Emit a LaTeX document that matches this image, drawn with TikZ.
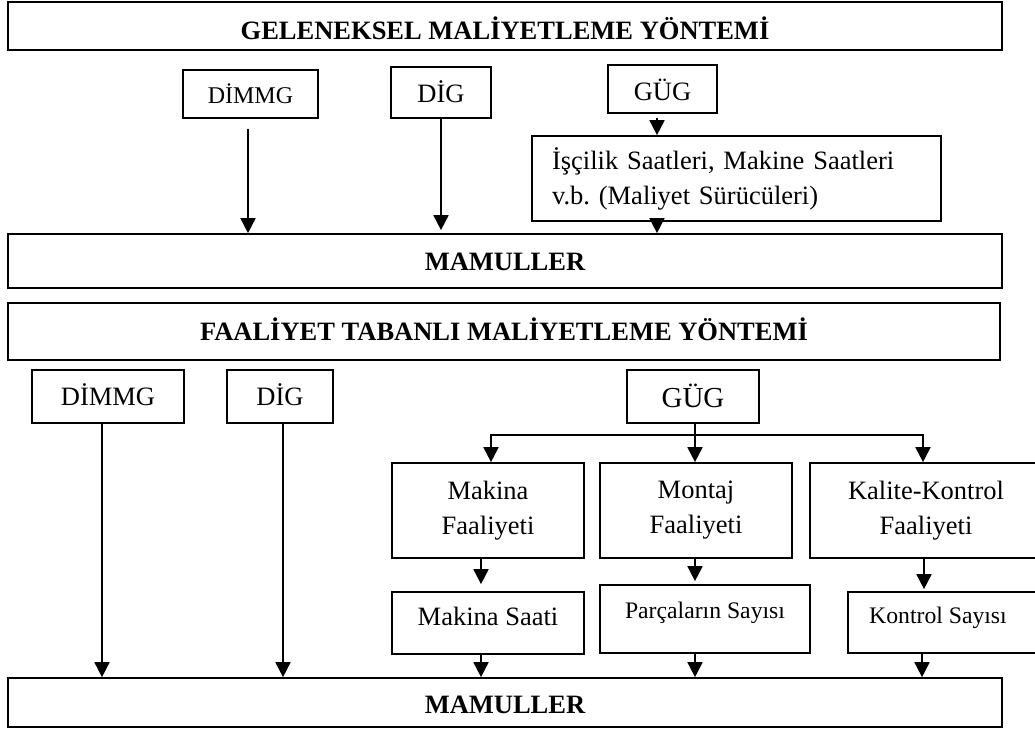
\documentclass[tikz,border=0pt]{standalone}
\usepackage{fontspec}
\setmainfont{Liberation Serif}
\usetikzlibrary{arrows.meta}
\begin{document}
\frenchspacing
\begin{tikzpicture}[x=1pt,y=-1pt,
  box/.style={draw, line width=1.7pt, inner sep=0pt, font=\fontsize{26.5}{35}\selectfont},
  title/.style={box, font=\bfseries\fontsize{26.5}{35}\selectfont},
  arr/.style={line width=1.7pt, -{Triangle[width=15pt,length=15pt]}},
  ln/.style={line width=1.7pt}]
\useasboundingbox (0,0) rectangle (1035,729);

% ---------- upper diagram ----------
\node[title, minimum width=994pt, minimum height=48pt, text height=26.6pt, text depth=0pt] (t1) at (505,26) {GELENEKSEL MALİYETLEME YÖNTEMİ};
\node[box, minimum width=135pt, minimum height=48pt, text height=18.6pt, text depth=0pt, font=\fontsize{24}{30}\selectfont] (dimmg1) at (250.5,94) {DİMMG};
\node[box, minimum width=100pt, minimum height=51pt, text height=20pt, text depth=0pt] (dig1) at (441,92.5) {DİG};
\node[box, minimum width=109pt, minimum height=48pt, text height=22pt, text depth=0pt] (gug1) at (662.5,89) {GÜG};
\node[box, minimum width=409pt, minimum height=85pt, text width=369pt, align=left, inner xsep=20pt] (isc) at (736.5,178.5) {İşçilik Saatleri, Makine Saatleri\\v.b. (Maliyet Sürücüleri)};
\node[title, minimum width=994pt, minimum height=54pt, text height=18pt, text depth=0pt] (mam1) at (505,261) {MAMULLER};

\draw[arr, shorten <=10pt] ([xshift=-2.5pt]dimmg1.south) -- ([xshift=-2.5pt]dimmg1.south |- mam1.north);
\draw[arr, shorten >=3pt] (dig1.south) -- (dig1.south |- mam1.north);
\draw[arr, shorten <=4pt] ([xshift=-5.5pt]gug1.south) -- ([xshift=-5.5pt]gug1.south |- isc.north);
\draw[arr] ([xshift=-5.5pt]gug1.south |- isc.south) -- ([xshift=-5.5pt]gug1.south |- mam1.north);

% ---------- lower diagram ----------
\node[title, minimum width=992pt, minimum height=57pt, text height=17pt, text depth=0pt] (t2) at (504,331.5) {FAALİYET TABANLI MALİYETLEME YÖNTEMİ};
\node[box, minimum width=152pt, minimum height=53pt, text height=17pt, text depth=0pt] (dimmg2) at (108,396.5) {DİMMG};
\node[box, minimum width=106pt, minimum height=53pt, text height=17pt, text depth=0pt] (dig2) at (280,396.5) {DİG};
\node[box, minimum width=132pt, minimum height=53pt, text height=22pt, text depth=0pt, font=\fontsize{29}{35}\selectfont] (gug2) at (693,396.5) {GÜG};

\node[box, minimum width=192pt, minimum height=95pt, align=center] (mf) at (488,510.5) {Makina\\Faaliyeti};
\node[box, minimum width=192pt, minimum height=95pt, align=center] (mo) at (696,510.5) {Montaj\\Faaliyeti};
\node[box, minimum width=232pt, minimum height=95pt, align=center] (kf) at (926,510.5) {Kalite-Kontrol\\Faaliyeti};

\node[box, minimum width=192pt, minimum height=62pt, text height=12pt, text depth=8pt] (ms) at (488,623) {Makina Saati};
\node[box, minimum width=210pt, minimum height=68pt, text height=8pt, text depth=10pt, font=\fontsize{23.7}{30}\selectfont] (ps) at (705,619) {Parçaların Sayısı};
\node[box, minimum width=192pt, minimum height=61pt, text height=9pt, text depth=8pt, font=\fontsize{23.7}{30}\selectfont] (ks) at (944,622.5) {\hspace*{-12pt}Kontrol Sayısı};

\node[title, minimum width=994pt, minimum height=49pt, text height=22pt, text depth=0pt] (mam2) at (505,702.5) {MAMULLER};

\draw[arr] ([xshift=-6pt]dimmg2.south) -- ([xshift=-6pt]dimmg2.south |- mam2.north);
\draw[arr] ([xshift=3pt]dig2.south) -- ([xshift=3pt]dig2.south |- mam2.north);

\draw[arr] ([xshift=2pt]gug2.south) -- ([xshift=2pt]gug2.south |- mo.north);
\draw[ln] ([xshift=2pt]gug2.south) ++(0,11) coordinate (j);
\draw[arr] (j) -| ([xshift=3pt]mf.north);
\draw[arr] (j) -| ([xshift=-3pt]kf.north);

\draw[arr, shorten >=7pt] ([xshift=-7pt]mf.south) -- ([xshift=-7pt]mf.south |- ms.north);
\draw[arr, shorten >=3pt] ([xshift=-1pt]mo.south) -- ([xshift=-1pt]mo.south |- ps.north);
\draw[arr, shorten >=2pt] ([xshift=-2pt]kf.south) -- ([xshift=-2pt]kf.south |- ks.north);

\draw[arr] ([xshift=-7pt]ms.south) -- ([xshift=-7pt]ms.south |- mam2.north);
\draw[arr] ([xshift=-10pt]ps.south) -- ([xshift=-10pt]ps.south |- mam2.north);
\draw[arr] ([xshift=-22pt]ks.south) -- ([xshift=-22pt]ks.south |- mam2.north);
\end{tikzpicture}
\end{document}
